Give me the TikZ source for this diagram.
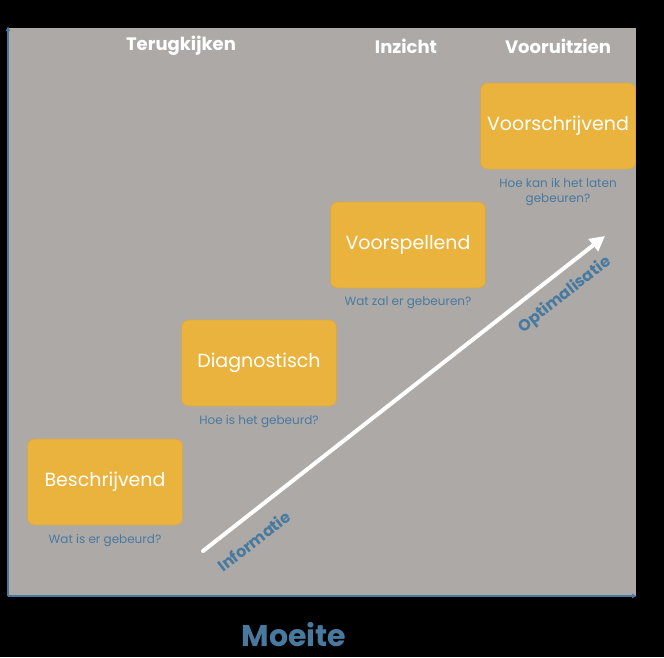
\documentclass[tikz,border=0pt]{standalone}
\usepackage{fontspec}
\setmainfont{Poppins}
\usetikzlibrary{arrows.meta}

\begin{document}
\begin{tikzpicture}[x=1pt,y=-1pt]

% Define colors - matching the reference image
\definecolor{panelgray}{RGB}{173,169,167}
\definecolor{boxorange}{RGB}{234,179,62}
\definecolor{axisblue}{RGB}{72,122,160}

\tikzset{
  stagebox/.style={fill=boxorange, draw=boxorange!80!gray, line width=0.8pt, rounded corners=7pt,
    minimum width=155pt, minimum height=86pt, text=white, font=\fontsize{19}{22}\selectfont},
  question/.style={text=axisblue, font=\fontsize{12}{15}\selectfont, align=center},
  header/.style={text=white, font=\bfseries\fontsize{18}{21}\selectfont},
  alongarrow/.style={text=axisblue, font=\bfseries\fontsize{16}{18}\selectfont, rotate=38}
}

% Black background and gray panel
\useasboundingbox (0,0) rectangle (664,657);
\fill[black] (0,0) rectangle (664,657);
\fill[panelgray] (8,28) rectangle (636,596);

% Axes
\coordinate (origin) at (8,596);
\coordinate (ytop) at (8,26);
\coordinate (xend) at (637,596);
\draw[axisblue, line width=2.2pt, -{Latex[length=5pt,width=5pt]}] (origin) -- (ytop);
\draw[axisblue, line width=2.2pt, -{Latex[length=5pt,width=5pt]}] (origin) -- (xend);

% Column headers
\node[header] (terug) at (181,46) {Terugkijken};
\node[header] (inzicht) at (406,46) {Inzicht};
\node[header] (vooruit) at (558,46) {Vooruitzien};

% Four stages
\node[stagebox] (beschr) at (105,482) {Beschrijvend};
\node[stagebox] (diagn) at (259,363) {Diagnostisch};
\node[stagebox] (voorsp) at (408,245) {Voorspellend};
\node[stagebox] (voorschr) at (558,126) {Voorschrijvend};

% Questions under the stages
\node[question, below=5pt] (q1) at (beschr.south) {Wat is er gebeurd?};
\node[question, below=5pt] (q2) at (diagn.south) {Hoe is het gebeurd?};
\node[question, below=5pt] (q3) at (voorsp.south) {Wat zal er gebeuren?};
\node[question, below=5pt] (q4) at (voorschr.south) {Hoe kan ik het laten\\gebeuren?};

% Diagonal arrow
\coordinate (infoStart) at (203,551);
\coordinate (infoEnd) at (605,236);
\draw[white, line width=4pt, line cap=round, -{Triangle[length=15pt,width=15pt]}] (infoStart) -- (infoEnd);
\node[alongarrow] (info) at (254,541) {Informatie};
\node[alongarrow] (optim) at (565,295) {Optimalisatie};

% Axis label
\node[text=axisblue, inner sep=0pt, font=\bfseries\fontsize{30}{34}\selectfont] (moeite) at (294,635) {Moeite};

\end{tikzpicture}
\end{document}
